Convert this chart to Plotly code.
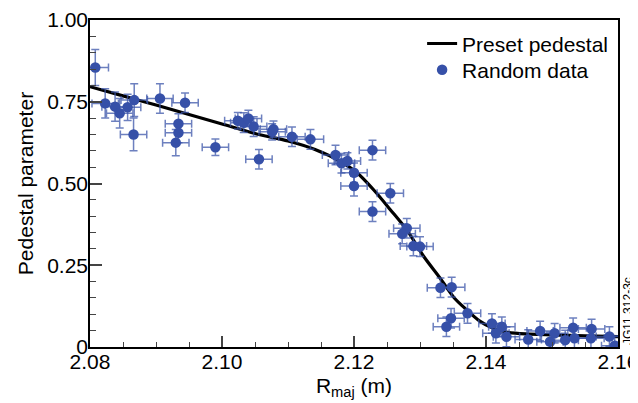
import plotly.graph_objects as go

# Preset pedestal curve
curve_x = [2.080, 2.085, 2.090, 2.095, 2.100, 2.105, 2.110, 2.114, 2.118, 2.1205,
           2.123, 2.1255, 2.128, 2.1306, 2.133, 2.1352, 2.137, 2.139, 2.141, 2.143,
           2.146, 2.150, 2.155, 2.160]
curve_y = [0.796, 0.768, 0.740, 0.711, 0.682, 0.653, 0.630, 0.605, 0.567, 0.532,
           0.480, 0.420, 0.358, 0.276, 0.212, 0.150, 0.115, 0.080, 0.058, 0.046,
           0.040, 0.037, 0.034, 0.032]

# Random data points
data_x = [2.0808, 2.0823, 2.0838, 2.0845, 2.0857, 2.0867, 2.0866, 2.0906, 2.0944, 2.0934,
          2.0934, 2.0930, 2.0990, 2.1024, 2.1033, 2.1040, 2.1048, 2.1056, 2.1076, 2.1078,
          2.1106, 2.1134, 2.1172, 2.1181, 2.1190, 2.1200, 2.1200, 2.1228, 2.1228, 2.1255,
          2.1280, 2.1273, 2.1290, 2.1300, 2.1331, 2.1348, 2.1372, 2.1347, 2.1340, 2.1409,
          2.1424, 2.1415, 2.1431, 2.1464, 2.1482, 2.1497, 2.1504, 2.1520, 2.1532, 2.1534,
          2.1560, 2.1559, 2.1587, 2.1595]
data_y = [0.855, 0.745, 0.735, 0.715, 0.733, 0.755, 0.650, 0.760, 0.747, 0.683,
          0.655, 0.625, 0.611, 0.692, 0.686, 0.699, 0.674, 0.574, 0.658, 0.666,
          0.643, 0.635, 0.587, 0.562, 0.569, 0.533, 0.492, 0.602, 0.414, 0.470,
          0.363, 0.346, 0.309, 0.307, 0.181, 0.183, 0.103, 0.088, 0.062, 0.072,
          0.062, 0.042, 0.031, 0.023, 0.049, 0.016, 0.042, 0.021, 0.059, 0.027,
          0.055, 0.027, 0.032, 0.004]
data_yerr = [0.055, 0.045, 0.045, 0.045, 0.040, 0.050, 0.050, 0.045, 0.030, 0.030,
             0.030, 0.040, 0.025, 0.025, 0.030, 0.025, 0.030, 0.030, 0.025, 0.025,
             0.030, 0.030, 0.030, 0.030, 0.025, 0.030, 0.030, 0.030, 0.030, 0.030,
             0.030, 0.030, 0.030, 0.030, 0.030, 0.030, 0.030, 0.030, 0.030, 0.030,
             0.030, 0.030, 0.030, 0.030, 0.030, 0.030, 0.030, 0.030, 0.030, 0.030,
             0.030, 0.030, 0.030, 0.030]
data_xerr = 0.002

x_ticks = [2.08, 2.10, 2.12, 2.14, 2.16]
x_ticklabels = ["2.08", "2.10", "2.12", "2.14", "2.16"]
y_ticks = [0, 0.25, 0.5, 0.75, 1.0]
y_ticklabels = ["0", "0.25", "0.50", "0.75", "1.00"]

FONT = "Liberation Sans, Arial, Helvetica, sans-serif"
marker_col = "#3650a8"
err_col = "rgba(60,85,170,0.75)"

fig = go.Figure()
fig.add_trace(go.Scatter(
    x=curve_x, y=curve_y, mode="lines", name="Preset pedestal",
    line=dict(color="black", width=3.2, shape="spline", smoothing=0.8),
    legend="legend",
))
fig.add_trace(go.Scatter(
    x=data_x, y=data_y, mode="markers", name="Random data",
    marker=dict(color=marker_col, size=10.5),
    error_y=dict(type="data", array=data_yerr, color=err_col, thickness=1.5, width=4),
    error_x=dict(type="constant", value=data_xerr, color=err_col, thickness=1.5, width=4),
    legend="legend2",
))

fig.add_annotation(
    text="JG11.312-3c", xref="paper", yref="paper",
    x=1.0, y=0.0, xanchor="center", yanchor="bottom", xshift=10, yshift=0,
    textangle=-90, showarrow=False,
    font=dict(family=FONT, size=12, color="black"),
)

legend_common = dict(xanchor="left", yanchor="middle", bgcolor="rgba(0,0,0,0)",
                     font=dict(size=21), itemwidth=30)

# page body has an 8px default margin, so the figure is sized 630x395
fig.update_layout(
    width=630, height=395,
    margin=dict(l=82, r=20, t=12, b=56, autoexpand=False),
    paper_bgcolor="white", plot_bgcolor="white",
    font=dict(family=FONT, size=21, color="black"),
    showlegend=True,
    legend=dict(x=0.629, y=0.927, **legend_common),
    legend2=dict(x=0.629, y=0.847, **legend_common),
    xaxis=dict(
        range=[2.08, 2.16], tickmode="array", tickvals=x_ticks, ticktext=x_ticklabels,
        ticks="inside", ticklen=11, tickwidth=1.5, tickcolor="#444",
        showline=True, linecolor="black", linewidth=1.5, mirror=True,
        showgrid=False, zeroline=False, ticklabeloverflow="allow",
        ticklabelstandoff=-5, automargin=False,
        minor=dict(tickmode="linear", tick0=2.08, dtick=0.005, ticks="inside",
                   ticklen=5, tickwidth=1.2, tickcolor="#444", showgrid=False),
        title=dict(text="R<sub>maj</sub> (m)", standoff=6, font=dict(size=21)),
        tickfont=dict(size=21),
    ),
    yaxis=dict(
        range=[0, 1.0], tickmode="array", tickvals=y_ticks, ticktext=y_ticklabels,
        ticks="inside", ticklen=12, tickwidth=1.5, tickcolor="#444",
        showline=True, linecolor="black", linewidth=1.5, mirror=True,
        showgrid=False, zeroline=False, automargin=False,
        ticklabelstandoff=-4,
        minor=dict(tickmode="linear", tick0=0, dtick=0.05, ticks="inside",
                   ticklen=6, tickwidth=1.2, tickcolor="#444", showgrid=False),
        title=dict(text="Pedestal parameter", standoff=8, font=dict(size=21)),
        tickfont=dict(size=21),
    ),
)

fig.write_html("out.html")
